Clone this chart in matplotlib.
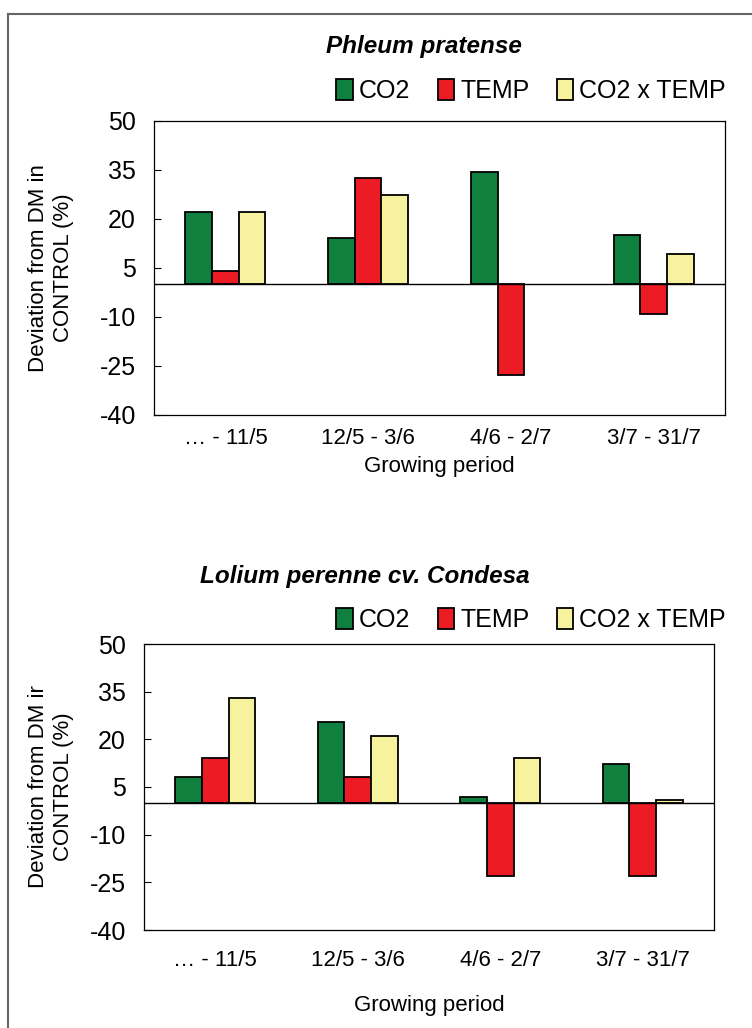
import numpy as np
import matplotlib
matplotlib.use("Agg")
from matplotlib import pyplot as plt
from matplotlib.lines import Line2D
from matplotlib.patches import Patch

plt.rcParams['font.family'] = ['Liberation Sans', 'DejaVu Sans']
plt.rcParams['axes.unicode_minus'] = False

periods = ["… - 11/5", "12/5 - 3/6", "4/6 - 2/7", "3/7 - 31/7"]
series = ["CO2", "TEMP", "CO2 x TEMP"]
colors = ["#10803f", "#ed1c24", "#f7f29e"]

# Phleum pratense (no CO2 x TEMP bar for 4/6 - 2/7)
phleum_co2 = [22.1, 14.1, 34.4, 15.0]
phleum_temp = [4.1, 32.6, -27.9, -9.0]
phleum_both = [22.1, 27.2, np.nan, 9.2]

# Lolium perenne cv. Condesa
lolium_co2 = [8.3, 25.3, 1.9, 12.2]
lolium_temp = [14.2, 8.3, -22.9, -22.9]
lolium_both = [32.9, 20.9, 14.1, 0.9]

yticks = [50, 35, 20, 5, -10, -25, -40]

W, H = 752, 1028
fig = plt.figure(figsize=(W/100, H/100), dpi=100)

# outer frame (top + left edge)
fig.add_artist(Line2D([8/W, 1.0], [1-14/H, 1-14/H], color="#666666", lw=1.5))
fig.add_artist(Line2D([8/W, 8/W], [0, 1-14/H], color="#666666", lw=1.5))


def draw(box, vals, title, title_x, title_y, leg_y, ylab, ylab_y, tick_y, xlab_y):
    # box = left, top, right, bottom in pixels
    l, t, r, b = box
    ax = fig.add_axes([l/W, 1-b/H, (r-l)/W, (b-t)/H])
    x = np.arange(len(periods))
    w = 0.187
    for i, v in enumerate(vals):
        ax.bar(x + (i - 1) * w, v, w, color=colors[i], edgecolor="black", linewidth=1.3)
    ax.axhline(0, color="black", lw=1)
    ax.set_xlim(-0.5, 3.5)
    ax.set_ylim(-40, 50)
    ax.set_yticks(yticks)
    ax.tick_params(axis="y", labelsize=18, direction="in", length=5, width=0.8, pad=13)
    ax.set_xticks([])
    for s in ax.spines.values():
        s.set_linewidth(0.9)

    # period labels, placed below the box
    yfrac = -(tick_y - b) / (b - t)
    for xi, lab in zip(x, periods):
        ax.text(xi, yfrac, lab, transform=ax.get_xaxis_transform(),
                ha="center", va="center", fontsize=16)
    fig.text((l+r)/2/W, 1-xlab_y/H, "Growing period", ha="center", va="center", fontsize=16)
    fig.text(title_x/W, 1-title_y/H, title, ha="left", va="center", fontsize=17.5,
             fontweight="bold", fontstyle="italic")

    handles = [Patch(facecolor=c, edgecolor="black", linewidth=1.3) for c in colors]
    fig.legend(handles, series, loc="center right", bbox_to_anchor=(726/W, 1-leg_y/H), ncol=3,
               frameon=False, fontsize=18, handlelength=0.65, handleheight=0.95,
               handletextpad=0.25, columnspacing=1.1, borderaxespad=0, borderpad=0)
    fig.text(51/W, 1-ylab_y/H, ylab, rotation=90, ha="center", va="center", fontsize=16,
             linespacing=1.25)
    return ax


draw((154, 121, 725, 415), [phleum_co2, phleum_temp, phleum_both],
     "Phleum pratense", 326, 47, 91, "Deviation from DM in\nCONTROL (%)", 268, 438, 467)

draw((144, 644, 714, 930), [lolium_co2, lolium_temp, lolium_both],
     "Lolium perenne cv. Condesa", 200, 577, 620, "Deviation from DM ir\nCONTROL (%)", 787, 961, 1005)

fig.savefig("out.png", dpi=100)
